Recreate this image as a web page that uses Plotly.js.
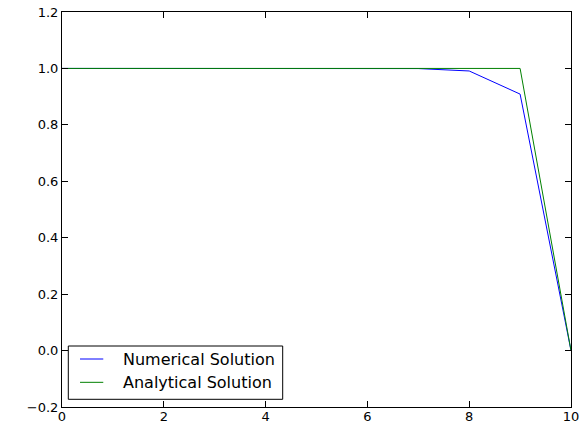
<!DOCTYPE html>
<html>
<head>
<meta charset="utf-8">
<script src="https://cdn.plot.ly/plotly-3.0.1.min.js"></script>
<style>html,body{margin:0;padding:0;background:#fff;}#chart{width:580px;height:425px;}</style>
</head>
<body>
<div id="chart"></div>
<script>
const xValues = [0, 1, 2, 3, 4, 5, 6, 7, 8, 9, 10];
const numerical = [1.0, 1.0, 1.0, 1.0, 1.0, 1.0, 1.0, 0.9995, 0.991, 0.909, 0.0];
const analytical = [1.0, 1.0, 1.0, 1.0, 1.0, 1.0, 1.0, 1.0, 1.0, 1.0, 0.0];
const seriesNames = ["Numerical Solution", "Analytical Solution"];
const seriesColors = ["#0000ff", "#008000"];
const xTicks = [0, 2, 4, 6, 8, 10];
const yTicks = [-0.2, 0.0, 0.2, 0.4, 0.6, 0.8, 1.0, 1.2];
const yTickText = ["\u22120.2", "0.0", "0.2", "0.4", "0.6", "0.8", "1.0", "1.2"];

const traces = [
  {x: xValues, y: numerical, name: seriesNames[0], mode: "lines", line: {color: seriesColors[0], width: 1}},
  {x: xValues, y: analytical, name: seriesNames[1], mode: "lines", line: {color: seriesColors[1], width: 1}}
];
const axisCommon = {
  showgrid: false, zeroline: false, showline: true, linecolor: "#000", linewidth: 1,
  mirror: "ticks", ticks: "inside", ticklen: 6, tickcolor: "#000", tickwidth: 1,
  tickfont: {family: "DejaVu Sans", size: 13, color: "#000"}
};

// manual legend (matplotlib style)
const legendBox = {x0: 0.0124, x1: 0.4336, y0: 0.0195, y1: 0.1544};
const legendRowsY = [0.1215, 0.0625];
const shapes = [{type: "rect", xref: "paper", yref: "paper", x0: legendBox.x0, x1: legendBox.x1,
  y0: legendBox.y0, y1: legendBox.y1, line: {color: "#000", width: 1}, fillcolor: "#fff", layer: "above"}];
const annotations = [];
seriesNames.forEach((name, i) => {
  shapes.push({type: "line", xref: "paper", yref: "paper", x0: 0.0354, x1: 0.0811,
    y0: legendRowsY[i], y1: legendRowsY[i], line: {color: seriesColors[i], width: 1}, layer: "above"});
  annotations.push({xref: "paper", yref: "paper", x: 0.116, y: legendRowsY[i], xanchor: "left", yanchor: "middle",
    text: name, showarrow: false, font: {family: "DejaVu Sans", size: 16, color: "#000"}});
});

const layout = {
  width: 580, height: 425,
  margin: {l: 62, r: 9, t: 12, b: 18},
  paper_bgcolor: "#fff", plot_bgcolor: "#fff",
  font: {family: "DejaVu Sans", color: "#000"},
  xaxis: Object.assign({}, axisCommon, {range: [0, 10], tickvals: xTicks, ticktext: xTicks.map(String), ticklabelstandoff: -3}),
  yaxis: Object.assign({}, axisCommon, {range: [-0.2, 1.2], tickvals: yTicks, ticktext: yTickText}),
  showlegend: false,
  shapes: shapes,
  annotations: annotations
};
Plotly.newPlot("chart", traces, layout, {staticPlot: true, displayModeBar: false});
</script>
</body>
</html>
